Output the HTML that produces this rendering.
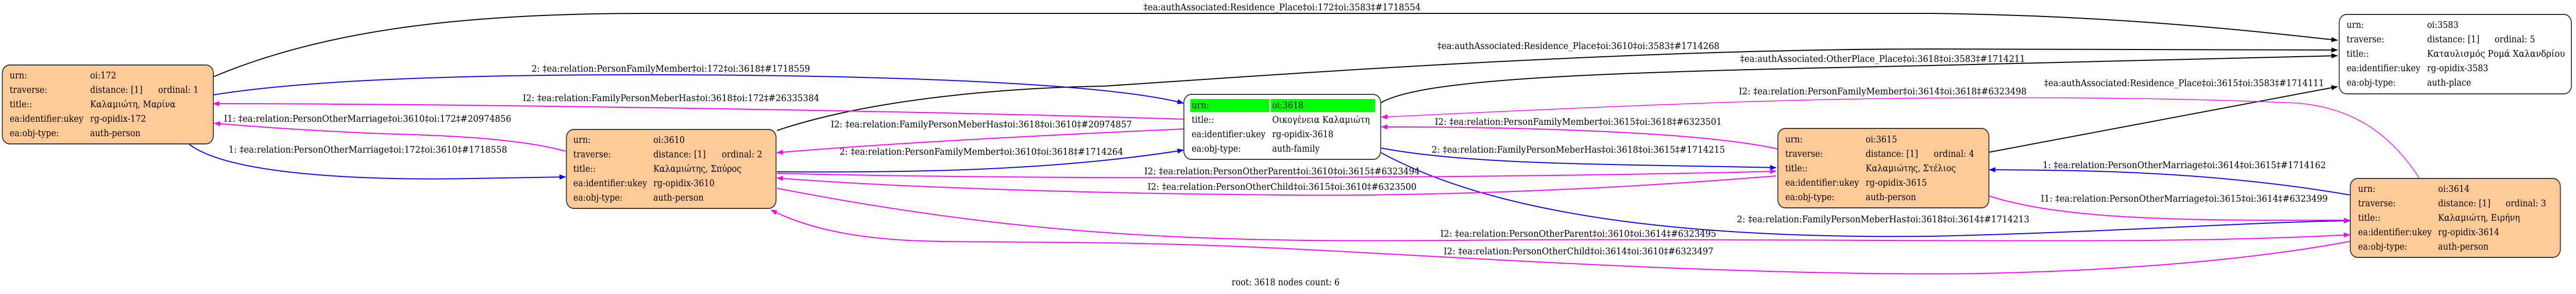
<!DOCTYPE html>
<html><head><meta charset="utf-8"><style>
html,body{margin:0;padding:0;background:#fff;width:100%;height:100%;overflow:hidden;}
svg{display:block;width:100vw;height:100vh;}
text{font-family:"DejaVu Serif","Liberation Serif",serif;font-size:18px;fill:#000;}
</style></head><body>
<svg viewBox="0 0 5603 570" preserveAspectRatio="none" xmlns="http://www.w3.org/2000/svg">
<defs>
<marker id="ak" markerWidth="14" markerHeight="10" refX="13" refY="5" orient="auto" markerUnits="userSpaceOnUse"><path d="M0,0 L14,5 L0,10 z" fill="#000"/></marker>
<marker id="ab" markerWidth="14" markerHeight="10" refX="13" refY="5" orient="auto" markerUnits="userSpaceOnUse"><path d="M0,0 L14,5 L0,10 z" fill="#0000ff"/></marker>
<marker id="am" markerWidth="14" markerHeight="10" refX="13" refY="5" orient="auto" markerUnits="userSpaceOnUse"><path d="M0,0 L14,5 L0,10 z" fill="#ff00ff"/></marker>
</defs>
<g fill="none" stroke-width="2">
<path stroke="#000" marker-end="url(#ak)" d="M464,149 C700,60 1000,26 1400,26 L4200,26 C4600,30 4900,60 5084,78"/>
<path stroke="#000" marker-end="url(#ak)" d="M1690,253 C1900,190 2200,170 2400,167 C2700,150 3500,95 4200,95 C4600,95 4900,96 5084,97"/>
<path stroke="#000" marker-end="url(#ak)" d="M3004,199 C3100,150 3500,140 4200,127 C4600,118 4900,112 5084,108"/>
<path stroke="#000" marker-end="url(#ak)" d="M4327,295 L5084,168"/>
<path stroke="#0000ff" marker-end="url(#ab)" d="M464,184 C700,150 1100,145 1400,145 C1900,145 2400,160 2574,200"/>
<path stroke="#0000ff" marker-end="url(#ab)" d="M412,280 C500,340 800,350 1027,346 L1230,343"/>
<path stroke="#0000ff" marker-end="url(#ab)" d="M1690,333 C2000,335 2300,330 2574,291"/>
<path stroke="#0000ff" marker-end="url(#ab)" d="M3004,287 C3200,320 3500,318 3863,325"/>
<path stroke="#0000ff" marker-end="url(#ab)" d="M3004,296 C3300,440 3800,462 4200,458 C4600,450 4900,430 5111,428"/>
<path stroke="#0000ff" marker-end="url(#ab)" d="M5111,378 C4800,330 4500,330 4327,329"/>
<path stroke="#ff00ff" marker-end="url(#am)" d="M2574,231 C2000,215 1000,201 464,201"/>
<path stroke="#ff00ff" marker-end="url(#am)" d="M1230,293 C1100,262 900,262 800,258 C650,252 550,245 466,239"/>
<path stroke="#ff00ff" marker-end="url(#am)" d="M2574,250 C2200,265 1900,280 1690,296"/>
<path stroke="#ff00ff" marker-end="url(#am)" d="M1690,336 C2300,350 3300,345 3863,332"/>
<path stroke="#ff00ff" marker-end="url(#am)" d="M3863,341 C3400,375 3000,380 2800,378 C2300,375 1900,360 1690,345"/>
<path stroke="#ff00ff" marker-end="url(#am)" d="M1690,365 C2300,470 2700,470 3300,465 C4200,463 4700,475 5111,455"/>
<path stroke="#ff00ff" marker-end="url(#am)" d="M5111,468 C4800,520 4400,531 4200,531 C3700,530 3200,500 2800,482 C2400,465 2200,472 2000,467 C1850,462 1750,440 1677,407"/>
<path stroke="#ff00ff" marker-end="url(#am)" d="M3868,289 C3700,255 3300,246 3005,246"/>
<path stroke="#ff00ff" stroke-width="1.5" marker-end="url(#am)" d="M5262,345 C5200,260 5120,210 5000,200 C4700,188 4400,189 4200,190 C3800,192 3300,215 3005,227"/>
<path stroke="#ff00ff" marker-end="url(#am)" d="M4327,380 C4500,430 4800,427 5111,427"/>
</g>
<g>
<text x="2487" y="20" textLength="603" lengthAdjust="spacingAndGlyphs">‡ea:authAssociated:Residence_Place‡oi:172‡oi:3583‡#1718554</text>
<text x="3126" y="95" textLength="614" lengthAdjust="spacingAndGlyphs">‡ea:authAssociated:Residence_Place‡oi:3610‡oi:3583‡#1714268</text>
<text x="3785" y="120" textLength="620" lengthAdjust="spacingAndGlyphs">‡ea:authAssociated:OtherPlace_Place‡oi:3618‡oi:3583‡#1714211</text>
<text x="4446" y="167" textLength="609" lengthAdjust="spacingAndGlyphs">‡ea:authAssociated:Residence_Place‡oi:3615‡oi:3583‡#1714111</text>
<text x="1156" y="139" textLength="606" lengthAdjust="spacingAndGlyphs">2: ‡ea:relation:PersonFamilyMember‡oi:172‡oi:3618‡#1718559</text>
<text x="497" y="296" textLength="606" lengthAdjust="spacingAndGlyphs">1: ‡ea:relation:PersonOtherMarriage‡oi:172‡oi:3610‡#1718558</text>
<text x="1826" y="300" textLength="617" lengthAdjust="spacingAndGlyphs">2: ‡ea:relation:PersonFamilyMember‡oi:3610‡oi:3618‡#1714264</text>
<text x="3114" y="296" textLength="638" lengthAdjust="spacingAndGlyphs">2: ‡ea:relation:FamilyPersonMeberHas‡oi:3618‡oi:3615‡#1714215</text>
<text x="3778" y="431" textLength="636" lengthAdjust="spacingAndGlyphs">2: ‡ea:relation:FamilyPersonMeberHas‡oi:3618‡oi:3614‡#1714213</text>
<text x="4443" y="326" textLength="616" lengthAdjust="spacingAndGlyphs">1: ‡ea:relation:PersonOtherMarriage‡oi:3614‡oi:3615‡#1714162</text>
<text x="1137" y="196" textLength="645" lengthAdjust="spacingAndGlyphs">I2: ‡ea:relation:FamilyPersonMeberHas‡oi:3618‡oi:172‡#26335384</text>
<text x="487" y="236" textLength="625" lengthAdjust="spacingAndGlyphs">I1: ‡ea:relation:PersonOtherMarriage‡oi:3610‡oi:172‡#20974856</text>
<text x="1807" y="247" textLength="655" lengthAdjust="spacingAndGlyphs">I2: ‡ea:relation:FamilyPersonMeberHas‡oi:3618‡oi:3610‡#20974857</text>
<text x="2489" y="338" textLength="599" lengthAdjust="spacingAndGlyphs">I2: ‡ea:relation:PersonOtherParent‡oi:3610‡oi:3615‡#6323494</text>
<text x="2496" y="368" textLength="585" lengthAdjust="spacingAndGlyphs">I2: ‡ea:relation:PersonOtherChild‡oi:3615‡oi:3610‡#6323500</text>
<text x="3133" y="459" textLength="600" lengthAdjust="spacingAndGlyphs">I2: ‡ea:relation:PersonOtherParent‡oi:3610‡oi:3614‡#6323495</text>
<text x="3140" y="493" textLength="587" lengthAdjust="spacingAndGlyphs">I2: ‡ea:relation:PersonOtherChild‡oi:3614‡oi:3610‡#6323497</text>
<text x="3121" y="242" textLength="624" lengthAdjust="spacingAndGlyphs">I2: ‡ea:relation:PersonFamilyMember‡oi:3615‡oi:3618‡#6323501</text>
<text x="3782" y="183" textLength="626" lengthAdjust="spacingAndGlyphs">I2: ‡ea:relation:PersonFamilyMember‡oi:3614‡oi:3618‡#6323498</text>
<text x="4439" y="391" textLength="624" lengthAdjust="spacingAndGlyphs">I1: ‡ea:relation:PersonOtherMarriage‡oi:3615‡oi:3614‡#6323499</text>
<text x="2679" y="553">root: 3618 nodes count: 6</text>
</g>

<rect x="5" y="126" width="459" height="153" rx="16" fill="#fecb98" stroke="#333" stroke-width="2"/>
<text x="21" y="152">urn:</text><text x="196" y="152">oi:172</text>
<text x="21" y="180">traverse:</text><text x="196" y="180">distance: [1]</text><text x="344" y="180">ordinal: 1</text>
<text x="21" y="208">title::</text><text x="196" y="208">Καλαμιώτη, Μαρίνα</text>
<text x="21" y="236">ea:identifier:ukey</text><text x="196" y="236">rg-opidix-172</text>
<text x="21" y="264">ea:obj-type:</text><text x="196" y="264">auth-person</text>

<rect x="1232" y="251" width="456" height="153" rx="16" fill="#fecb98" stroke="#333" stroke-width="2"/>
<text x="1247" y="277">urn:</text><text x="1421" y="277">oi:3610</text>
<text x="1247" y="305">traverse:</text><text x="1421" y="305">distance: [1]</text><text x="1570" y="305">ordinal: 2</text>
<text x="1247" y="333">title::</text><text x="1421" y="333">Καλαμιώτης, Σπύρος</text>
<text x="1247" y="361">ea:identifier:ukey</text><text x="1421" y="361">rg-opidix-3610</text>
<text x="1247" y="389">ea:obj-type:</text><text x="1421" y="389">auth-person</text>

<rect x="2575" y="183" width="428" height="126" rx="16" fill="#fff" stroke="#333" stroke-width="2"/>
<rect x="2589" y="192" width="172" height="25" fill="#00ff00"/>
<rect x="2764" y="192" width="227" height="25" fill="#00ff00"/>
<text x="2592" y="210">urn:</text><text x="2767" y="210">oi:3618</text>
<text x="2592" y="238">title::</text><text x="2767" y="238">Οικογένεια Καλαμιώτη</text>
<text x="2592" y="266">ea:identifier:ukey</text><text x="2767" y="266">rg-opidix-3618</text>
<text x="2592" y="294">ea:obj-type:</text><text x="2767" y="294">auth-family</text>

<rect x="3867" y="249" width="459" height="154" rx="16" fill="#fecb98" stroke="#333" stroke-width="2"/>
<text x="3883" y="276">urn:</text><text x="4058" y="276">oi:3615</text>
<text x="3883" y="304">traverse:</text><text x="4058" y="304">distance: [1]</text><text x="4206" y="304">ordinal: 4</text>
<text x="3883" y="332">title::</text><text x="4058" y="332">Καλαμιώτης, Στέλιος</text>
<text x="3883" y="360">ea:identifier:ukey</text><text x="4058" y="360">rg-opidix-3615</text>
<text x="3883" y="388">ea:obj-type:</text><text x="4058" y="388">auth-person</text>

<rect x="5088" y="28" width="505" height="154" rx="16" fill="#fff" stroke="#333" stroke-width="2"/>
<text x="5104" y="54">urn:</text><text x="5279" y="54">oi:3583</text>
<text x="5104" y="82">traverse:</text><text x="5279" y="82">distance: [1]</text><text x="5426" y="82">ordinal: 5</text>
<text x="5104" y="110">title::</text><text x="5279" y="110" textLength="300" lengthAdjust="spacingAndGlyphs">Καταυλισμός Ρομά Χαλανδρίου</text>
<text x="5104" y="138">ea:identifier:ukey</text><text x="5279" y="138">rg-opidix-3583</text>
<text x="5104" y="166">ea:obj-type:</text><text x="5279" y="166">auth-place</text>

<rect x="5112" y="346" width="457" height="153" rx="16" fill="#fecb98" stroke="#333" stroke-width="2"/>
<text x="5129" y="372">urn:</text><text x="5303" y="372">oi:3614</text>
<text x="5129" y="400">traverse:</text><text x="5303" y="400">distance: [1]</text><text x="5450" y="400">ordinal: 3</text>
<text x="5129" y="428">title::</text><text x="5303" y="428">Καλαμιώτη, Ειρήνη</text>
<text x="5129" y="456">ea:identifier:ukey</text><text x="5303" y="456">rg-opidix-3614</text>
<text x="5129" y="484">ea:obj-type:</text><text x="5303" y="484">auth-person</text>
</svg>
</body></html>
